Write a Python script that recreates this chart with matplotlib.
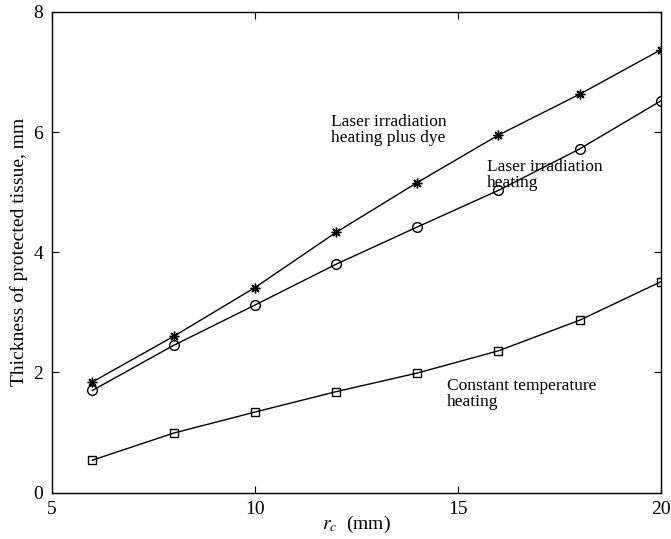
import numpy as np
import matplotlib
matplotlib.use('Agg')
import matplotlib.pyplot as plt

plt.rcParams['font.family'] = ['Liberation Serif', 'DejaVu Serif']
plt.rcParams['mathtext.fontset'] = 'stix'

# r_c values (mm)
r_c = [6, 8, 10, 12, 14, 16, 18, 20]

# thickness of protected tissue, mm
laser_dye = [1.84, 2.60, 3.41, 4.33, 5.16, 5.95, 6.63, 7.37]
laser = [1.70, 2.45, 3.12, 3.80, 4.42, 5.03, 5.72, 6.52]
constant_temp = [0.54, 0.99, 1.34, 1.68, 1.99, 2.36, 2.87, 3.51]

x_ticks = [5, 10, 15, 20]
y_ticks = [0, 2, 4, 6, 8]

fig = plt.figure(figsize=(6.71, 5.39), dpi=100)
ax = fig.add_axes([0.077, 0.086, 0.908, 0.892])

ax.plot(r_c, laser_dye, color='black', lw=1.0, marker=(8, 2, 0), ms=7, mew=1.0)
ax.plot(r_c, laser, color='black', lw=1.0, marker='o', ms=7, mfc='none', mew=1.0)
ax.plot(r_c, constant_temp, color='black', lw=1.0, marker='s', ms=6, mfc='none', mew=1.0)

ax.text(11.88, 6.04, 'Laser irradiation\nheating plus dye', fontsize=12.5, va='center', ha='left', linespacing=1.0)
ax.text(15.72, 5.29, 'Laser irradiation\nheating', fontsize=12.5, va='center', ha='left', linespacing=1.0)
ax.text(14.74, 1.64, 'Constant temperature\nheating', fontsize=12.5, va='center', ha='left', linespacing=1.0)

ax.set_xlim(5, 20)
ax.set_ylim(0, 8)
ax.set_xticks(x_ticks)
ax.set_yticks(y_ticks)
ax.tick_params(direction='in', top=True, right=True, length=5, width=0.8, labelsize=14, pad=6)
for s in ax.spines.values():
    s.set_linewidth(1.0)

ax.set_xlabel(r'$r_c$  (mm)', fontsize=14, labelpad=-3)
ax.set_ylabel('Thickness of protected tissue, mm', fontsize=14, labelpad=4)

plt.savefig('out.png', dpi=100)
